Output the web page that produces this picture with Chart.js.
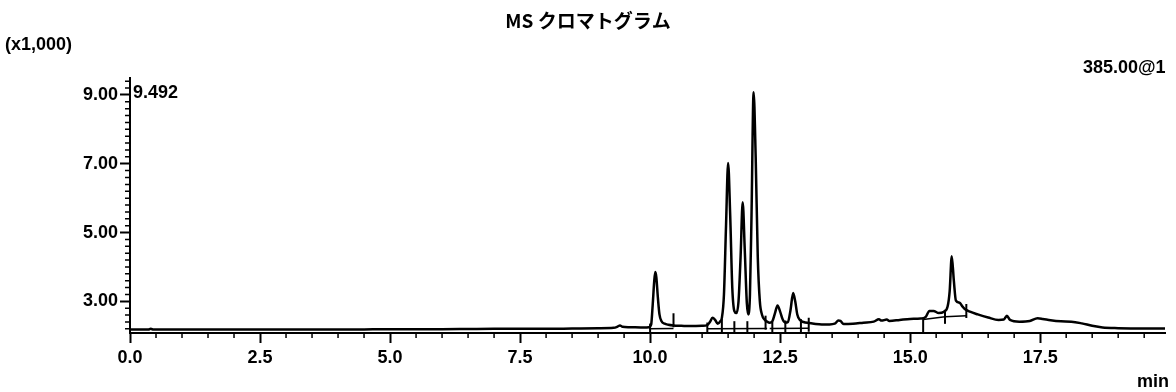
<!DOCTYPE html>
<html>
<head>
<meta charset="utf-8">
<script src="https://cdn.jsdelivr.net/npm/chart.js@4"></script>
<style>
  body { margin: 0; background: #fff; }
  #wrap { width: 1176px; height: 392px; position: relative; }
</style>
</head>
<body>
<div id="wrap"><canvas id="chart"></canvas></div>
<script>
// retention time (min) and intensity (x1,000)
const times = [
  0.00, 0.35, 0.40, 0.45, 1.00, 1.50, 2.00, 2.50, 3.00, 3.50, 4.00, 4.50, 5.00, 5.50, 6.00, 6.50,
  7.00, 7.50, 8.00, 8.50, 9.00, 9.30, 9.38, 9.42, 9.47, 9.60, 9.90, 9.98, 10.02, 10.05, 10.08, 10.10,
  10.12, 10.15, 10.18, 10.22, 10.28, 10.35, 10.45, 10.60, 10.80, 11.00, 11.10, 11.15, 11.20, 11.25,
  11.30, 11.35, 11.38, 11.42, 11.46, 11.50, 11.54, 11.58, 11.62, 11.66, 11.70, 11.74, 11.78, 11.82,
  11.86, 11.89, 11.92, 11.95, 11.99, 12.03, 12.07, 12.11, 12.15, 12.20, 12.25, 12.30, 12.35, 12.40,
  12.45, 12.50, 12.55, 12.60, 12.65, 12.70, 12.75, 12.79, 12.83, 12.88, 12.95, 13.05, 13.15, 13.30,
  13.45, 13.55, 13.62, 13.66, 13.72, 13.90, 14.10, 14.30, 14.40, 14.45, 14.55, 14.60, 14.80, 15.00,
  15.20, 15.30, 15.37, 15.45, 15.55, 15.65, 15.72, 15.76, 15.80, 15.84, 15.88, 15.95, 16.00, 16.05,
  16.15, 16.30, 16.50, 16.70, 16.80, 16.86, 16.92, 17.10, 17.30, 17.45, 17.55, 17.70, 17.90, 18.10,
  18.30, 18.50, 18.70, 19.00, 19.50, 19.90
];
const intensity = [
  2.18, 2.18, 2.20, 2.18, 2.18, 2.18, 2.18, 2.185, 2.18, 2.185, 2.18, 2.185, 2.19, 2.19, 2.19, 2.195,
  2.20, 2.20, 2.20, 2.21, 2.22, 2.23, 2.27, 2.30, 2.26, 2.25, 2.24, 2.25, 2.32, 2.90, 3.60, 3.85,
  3.70, 3.10, 2.62, 2.42, 2.35, 2.32, 2.30, 2.29, 2.28, 2.29, 2.31, 2.40, 2.52, 2.46,
  2.35, 2.42, 2.52, 3.20, 5.20, 7.02, 5.50, 3.40, 2.72, 2.66, 3.00, 4.30, 5.88, 4.50,
  2.95, 2.62, 3.20, 5.50, 9.08, 7.20, 4.30, 3.00, 2.62, 2.47, 2.41, 2.38, 2.42, 2.65,
  2.88, 2.70, 2.47, 2.38, 2.40, 2.75, 3.24, 3.00, 2.62, 2.46, 2.40, 2.37, 2.35, 2.33,
  2.33, 2.35, 2.44, 2.43, 2.34, 2.35, 2.38, 2.41, 2.48, 2.44, 2.47, 2.43, 2.46, 2.49,
  2.50, 2.55, 2.72, 2.72, 2.66, 2.70, 2.85, 3.30, 4.31, 3.60, 3.02, 2.96, 2.86, 2.78,
  2.70, 2.62, 2.53, 2.46, 2.47, 2.58, 2.46, 2.41, 2.43, 2.51, 2.49, 2.45, 2.42, 2.41,
  2.36, 2.29, 2.24, 2.22, 2.21, 2.21
];

// integration baselines (null breaks the line between peak groups)
const baseTimes = [9.98, 10.45, null, 11.10, 12.25, null, 12.30, 13.05, null, 15.25, 15.67, 16.08];
const baseLevels = [2.20, 2.21, null, 2.20, 2.21, null, 2.21, 2.22, null, 2.47, 2.55, 2.58];

// peak start / end markers
const markerTimes = [10.00, 10.45, 11.10, 11.38, 11.62, 11.87, 12.22, 12.35, 12.60, 12.90, 13.05, 15.25, 15.67, 16.08];
const markerLevels = [2.15, 2.45, 2.18, 2.28, 2.22, 2.22, 2.38, 2.20, 2.24, 2.28, 2.32, 2.30, 2.55, 2.72];

const xMajorTicks = [0, 2.5, 5, 7.5, 10, 12.5, 15, 17.5];
const yMajorTicks = [3, 5, 7, 9];
const yMin = 2.08, yMax = 9.492, xMin = 0, xMax = 19.9;

const TXT_FONT = 'bold 18px "Liberation Sans", Arial, sans-serif';

const trace = times.map((t, i) => ({ x: t, y: intensity[i] }));
const baseline = baseTimes.map((t, i) => (t === null ? { x: null, y: null } : { x: t, y: baseLevels[i] }));
const markers = markerTimes.map((t, i) => ({ x: t, y: markerLevels[i] }));

// minor ticks + free text labels
const decorPlugin = {
  id: 'decor',
  afterDraw(chart) {
    const { ctx, chartArea, scales } = chart;
    const xs = scales.x, ys = scales.y;
    ctx.save();
    ctx.strokeStyle = '#000';
    ctx.lineWidth = 1.5;
    ctx.beginPath();
    for (let v = 0.5; v < xMax; v += 0.5) {
      if (xMajorTicks.some((m) => Math.abs(m - v) < 1e-6)) continue;
      const px = xs.getPixelForValue(v);
      ctx.moveTo(px, chartArea.bottom);
      ctx.lineTo(px, chartArea.bottom + 5);
    }
    for (let v = 2.2; v < yMax; v += 0.2) {
      if (yMajorTicks.some((m) => Math.abs(m - v) < 1e-6)) continue;
      const py = ys.getPixelForValue(v);
      ctx.moveTo(chartArea.left, py);
      ctx.lineTo(chartArea.left - 5, py);
    }
    ctx.stroke();

    ctx.fillStyle = '#000';
    ctx.textBaseline = 'middle';
    ctx.font = 'bold 19px "Noto Sans CJK JP", sans-serif';
    ctx.textAlign = 'center';
    ctx.fillText('MS クロマトグラム', 588, 21);

    ctx.font = TXT_FONT;
    ctx.textAlign = 'left';
    ctx.fillText('(x1,000)', 5, 45);
    ctx.fillText('9.492', 133, 93);
    ctx.fillText('385.00@1', 1083, 68);
    ctx.fillText('min', 1137, 382);
    ctx.restore();
  },
};

new Chart(document.getElementById('chart'), {
  type: 'line',
  data: {
    datasets: [
      {
        data: trace,
        borderColor: '#000',
        borderWidth: 2.5,
        pointRadius: 0,
        cubicInterpolationMode: 'monotone',
      },
      {
        data: baseline,
        borderColor: '#000',
        borderWidth: 1.5,
        pointRadius: 0,
        spanGaps: false,
      },
      {
        type: 'scatter',
        data: markers,
        pointStyle: 'line',
        rotation: 90,
        radius: 7,
        borderColor: '#000',
        borderWidth: 2,
      },
    ],
  },
  options: {
    responsive: true,
    maintainAspectRatio: false,
    animation: false,
    layout: { padding: { top: 78, right: 11, left: 0, bottom: 0 } },
    plugins: {
      legend: { display: false },
      tooltip: { enabled: false },
    },
    scales: {
      x: {
        type: 'linear',
        min: xMin,
        max: xMax,
        afterBuildTicks: (scale) => {
          scale.ticks = xMajorTicks.map((v) => ({ value: v }));
        },
        afterFit: (scale) => { scale.height = 59; },
        border: { display: true, color: '#000', width: 2 },
        grid: { drawOnChartArea: false, drawTicks: true, tickLength: 10, tickColor: '#000', tickWidth: 2 },
        ticks: {
          autoSkip: false,
          maxRotation: 0,
          padding: 4,
          color: '#000',
          font: { family: '"Liberation Sans", Arial, sans-serif', size: 18, weight: 'bold' },
          callback: (v) => Number(v).toFixed(1),
        },
      },
      y: {
        min: yMin,
        max: yMax,
        afterBuildTicks: (scale) => {
          scale.ticks = yMajorTicks.map((v) => ({ value: v }));
        },
        afterFit: (scale) => { scale.width = 130; },
        border: { display: true, color: '#000', width: 2 },
        grid: { drawOnChartArea: false, drawTicks: true, tickLength: 10, tickColor: '#000', tickWidth: 2 },
        ticks: {
          autoSkip: false,
          padding: 2,
          color: '#000',
          font: { family: '"Liberation Sans", Arial, sans-serif', size: 18, weight: 'bold' },
          callback: (v) => Number(v).toFixed(2),
        },
      },
    },
  },
  plugins: [decorPlugin],
});
</script>
</body>
</html>
